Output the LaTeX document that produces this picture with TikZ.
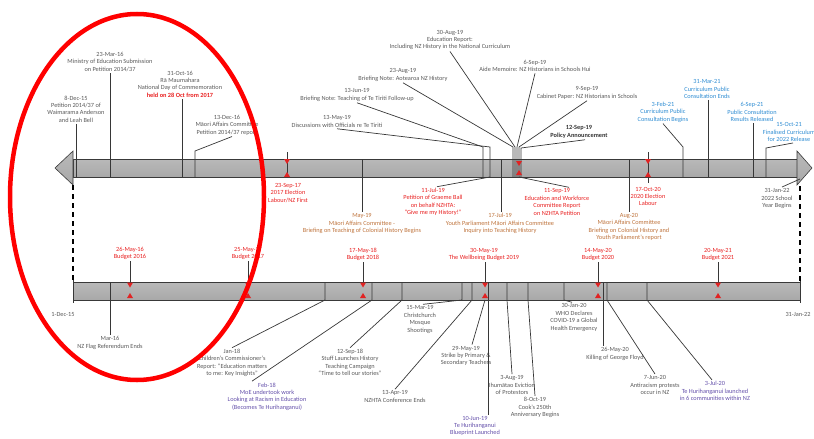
\documentclass[tikz,border=0pt]{standalone}
\usepackage{fontspec}
\setmainfont{Carlito}
\definecolor{txtgray}{RGB}{89,89,89}
\definecolor{txtred}{RGB}{232,32,32}
\definecolor{txtbrown}{RGB}{190,115,60}
\definecolor{txtblue}{RGB}{46,140,210}
\definecolor{txtpurple}{RGB}{100,80,170}
\definecolor{leadcol}{RGB}{55,55,55}
\definecolor{markred}{RGB}{225,35,35}
\definecolor{ringred}{RGB}{255,0,0}
\newcommand\tlfont{\fontsize{6.3}{7.4}\selectfont}
% pair of red triangles marking an event inside a band
\newcommand\tlmark[3]{%
  \fill[markred] (#1-3,#2) -- (#1+3,#2) -- (#1,#2+5) -- cycle;
  \fill[markred] (#1-3,#3) -- (#1+3,#3) -- (#1,#3-5) -- cycle;}
\begin{document}
\begin{tikzpicture}[x=1pt,y=-1pt,
  lbl/.style={align=center, inner sep=0pt, outer sep=1.5pt, font=\tlfont, text=txtgray},
  redlbl/.style={lbl, text=txtred},
  brownlbl/.style={lbl, text=txtbrown},
  bluelbl/.style={lbl, text=txtblue},
  purplbl/.style={lbl, text=txtpurple},
  lead/.style={draw=leadcol, line width=0.7pt},
  bandshade/.style={top color=gray!55, middle color=gray!18, bottom color=gray!68, draw=gray!45!black, line width=0.6pt},
  ring/.style={draw=ringred, line width=4.5pt},
  guide/.style={draw=black, line width=1.1pt, dash pattern=on 5pt off 4pt}
]
\useasboundingbox (0,0) rectangle (814,439);

% ---------- bands ----------
\path[bandshade] (73,159) rectangle (797,177);
\path[bandshade] (73,151) -- (55,168) -- (73,185) -- cycle;
\path[bandshade] (797,151) -- (812,168) -- (797,185) -- cycle;
\path[bandshade] (73,282) rectangle (800,300);
\draw[leadcol, line width=0.9pt] (73,278) -- (73,303);
\draw[leadcol, line width=0.9pt] (800,278) -- (800,303);
\draw[guide] (73,185) -- (73,282);
\draw[guide] (800,186) -- (800,282);

% ---------- upper timeline: events above ----------
\node[lbl] (t1) at (76,109) {8-Dec-15\\Petition 2014/37 of\\Waimarama Anderson\\and Leah Bell};
\node[lbl] (t2) at (110,62) {23-Mar-16\\Ministry of Education Submission\\on Petition 2014/37};
\node[lbl] (t3) at (180,84) {31-Oct-16\\Rā Maumahara\\National Day of Commemoration\\\textcolor{txtred}{\bfseries held on 28 Oct from 2017}};
\node[lbl] (t4) at (227,125) {13-Dec-16\\Māori Affairs Committee\\Petition 2014/37 report};
\node[lbl] (t5) at (337,121.5) {13-May-19\\Discussions with Officials re Te Tiriti};
\node[lbl] (t6) at (357,95) {13-Jun-19\\Briefing Note: Teaching of Te Tiriti Follow-up};
\node[lbl] (t7) at (403,75) {23-Aug-19\\Briefing Note: Aotearoa NZ History};
\node[lbl] (t8) at (450,40) {30-Aug-19\\Education Report:\\Including NZ History in the National Curriculum};
\node[lbl] (t9) at (535,66) {6-Sep-19\\Aide Memoire: NZ Historians in Schools Hui};
\node[lbl] (t10) at (587,93) {9-Sep-19\\Cabinet Paper: NZ Historians in Schools};
\node[lbl, font=\tlfont\bfseries, text=black!80] (t11) at (579,132) {12-Sep-19\\Policy Announcement};
\node[bluelbl] (t12) at (663,112) {3-Feb-21\\Curriculum Public\\Consultation Begins};
\node[bluelbl] (t13) at (707,89) {31-Mar-21\\Curriculum Public\\Consultation Ends};
\node[bluelbl] (t14) at (752,112) {6-Sep-21\\Public Consultation\\Results Released};
\node[bluelbl] (t15) at (789,132) {15-Oct-21\\Finalised Curriculum\\for 2022 Release};

\coordinate (a1) at (76,177);
\coordinate (a2) at (110,177);
\coordinate (a3) at (182,177);
\coordinate (a4) at (195,177);   \coordinate (e4) at (195,151);
\coordinate (a5) at (490,177);   \coordinate (e5) at (490,147);
\coordinate (a6) at (483,177);   \coordinate (e6) at (483,147);
\coordinate (a7) at (513,177);   \coordinate (e7) at (513,147);
\coordinate (a8) at (515,177);   \coordinate (e8) at (515,147);
\coordinate (a9) at (517,177);   \coordinate (e9) at (517,147);
\coordinate (a10) at (519,177);  \coordinate (e10) at (519,147);
\coordinate (a11) at (521,177);  \coordinate (e11) at (521,148);
\coordinate (a12) at (683,177);  \coordinate (e12) at (683,147);
\coordinate (a13) at (708,177);
\coordinate (a14) at (753,177);
\coordinate (a15) at (766,177);  \coordinate (e15) at (766,148);

\draw[lead] (t1.south) -- (a1);
\draw[lead] (t2.south -| a2) -- (a2);
\draw[lead] (t3.south -| a3) -- (a3);
\draw[lead] ([xshift=5pt]t4.south) -- (e4) -- (a4);
\draw[lead] (t5.south) -- (e5) -- (a5);
\draw[lead] (t6.south) -- (e6) -- (a6);
\draw[lead] (t7.south) -- (e7) -- (a7);
\draw[lead] (t8.south) -- (e8) -- (a8);
\draw[lead] (t9.south) -- (e9) -- (a9);
\draw[lead] (t10.south) -- (e10) -- (a10);
\draw[lead] ([xshift=6pt]t11.south) -- (e11) -- (a11);
\draw[lead] (t12.south) -- (e12) -- (a12);
\draw[lead] (t13.south -| a13) -- (a13);
\draw[lead] (t14.south -| a14) -- (a14);
\draw[lead] ([xshift=4pt]t15.south) -- (e15) -- (a15);

% ---------- upper timeline: events below ----------
\node[redlbl] (b1) at (288,193) {23-Sep-17\\2017 Election\\Labour/NZ First};
\coordinate (m1a) at (287,152); \coordinate (m1b) at (287,178);
\draw[lead] (m1a) -- (m1b);
\tlmark{287}{159}{177}

\node[brownlbl] (b2) at (362,223.5) {May-19\\Māori Affairs Committee -\\Briefing on Teaching of Colonial History Begins};
\coordinate (s2) at (362,159);
\draw[lead] (s2) -- (b2.north);

\node[redlbl] (b3) at (433,202) {11-Jul-19\\Petition of Graeme Ball\\on behalf NZHTA:\\“Give me my History!”};
\draw[lead] ([xshift=4pt]b3.north) -- (a5);

\node[brownlbl] (b4) at (500,223.5) {17-Jul-19\\Youth Parliament Māori Affairs Committee\\Inquiry into Teaching History};
\coordinate (s4) at (501,159);
\draw[lead] (s4) -- (s4 |- b4.north);

\node[redlbl] (b5) at (557,202) {11-Sep-19\\Education and Workforce\\Committee Report\\on NZHTA Petition};
\draw[lead] ([xshift=12pt]b5.north) -- (a10);
\tlmark{519}{161}{175}

\node[redlbl] (b6) at (648,196.5) {17-Oct-20\\2020 Election\\Labour};
\coordinate (m6a) at (648,152); \coordinate (m6b) at (648,183);
\draw[lead] (m6a) -- (m6b);
\tlmark{648}{159}{177}

\node[brownlbl] (b7) at (629,227) {Aug-20\\Māori Affairs Committee\\Briefing on Colonial History and\\Youth Parliament’s report};
\coordinate (s7) at (629,159);
\draw[lead] (s7) -- (b7.north);

\node[lbl] (b8) at (777,198.5) {31-Jan-22\\2022 School\\Year Begins};
\coordinate (a16) at (800,179);
\draw[lead] ([xshift=5pt]b8.north) -- (a16);

% ---------- lower timeline: budgets ----------
\node[redlbl] (r1) at (130,253.5) {26-May-16\\Budget 2016};
\node[redlbl] (r2) at (248,253.5) {25-May-17\\Budget 2017};
\node[redlbl] (r3) at (363,254.5) {17-May-18\\Budget 2018};
\node[redlbl] (r4) at (484,254.5) {30-May-19\\The Wellbeing Budget 2019};
\node[redlbl] (r5) at (598,254.5) {14-May-20\\Budget 2020};
\node[redlbl] (r6) at (718,254.5) {20-May-21\\Budget 2021};
\coordinate (p1) at (130,282);
\coordinate (p2) at (248,282);
\coordinate (p3) at (363,282);
\coordinate (p4) at (485,282);
\coordinate (p5) at (598,282);
\coordinate (p6) at (718,282);
\draw[lead] (r1.south -| p1) -- (p1);
\draw[lead] (r2.south -| p2) -- (p2);
\draw[lead] (r3.south -| p3) -- (p3);
\draw[lead] (r4.south -| p4) -- (p4);
\draw[lead] (r5.south -| p5) -- (p5);
\draw[lead] (r6.south -| p6) -- (p6);
\tlmark{130}{282.5}{298}
\tlmark{248}{282.5}{298}
\tlmark{363}{282.5}{298}
\tlmark{485}{282.5}{298}
\tlmark{598}{282.5}{298}
\tlmark{718}{282.5}{298}

% ---------- lower timeline: events below ----------
\node[lbl] (d0) at (63,314) {1-Dec-15};
\node[lbl] (d9) at (798,314) {31-Jan-22};

\node[lbl] (l1) at (110,343) {Mar-16\\NZ Flag Referendum Ends};
\node[lbl] (l2) at (232,363) {Jan-18\\Children’s Commissioner’s\\Report: “Education matters\\to me: Key Insights”};
\node[purplbl] (l3) at (267,396.5) {Feb-18\\MoE undertook work\\Looking at Racism in Education\\(Becomes Te Hurihanganui)};
\node[lbl] (l4) at (350,362.5) {12-Sep-18\\Stuff Launches History\\Teaching Campaign\\“Time to tell our stories”};
\node[lbl] (l5) at (420,319.5) {15-Mar-19\\Christchurch\\Mosque\\Shootings};
\node[lbl] (l6) at (395,396.5) {13-Apr-19\\NZHTA Conference Ends};
\node[lbl] (l7) at (466,356) {29-May-19\\Strike by Primary \&\\Secondary Teachers};
\node[purplbl] (l8) at (475,426) {10-Jun-19\\Te Hurihanganui\\Blueprint Launched};
\node[lbl] (l9) at (512,385) {3-Aug-19\\Ihumātao Eviction\\of Protestors};
\node[lbl] (l10) at (535,407.5) {8-Oct-19\\Cook’s 250th\\Anniversary Begins};
\node[lbl] (l11) at (574,317.5) {30-Jan-20\\WHO Declares\\COVID-19 a Global\\Health Emergency};
\node[lbl] (l12) at (615,354) {26-May-20\\Killing of George Floyd};
\node[lbl] (l13) at (655,385) {7-Jun-20\\Antiracism protests\\occur in NZ};
\node[purplbl] (l14) at (715,391) {3-Jul-20\\Te Hurihanganui launched\\in 6 communities within NZ};

\coordinate (q1) at (110,282);
\coordinate (q2) at (325,282);  \coordinate (k2) at (325,300);
\coordinate (q3) at (372,282);  \coordinate (k3) at (372,300);
\coordinate (q4) at (402,282);  \coordinate (k4) at (402,300);
\coordinate (q5) at (462,282);  \coordinate (k5) at (462,300);
\coordinate (q6) at (472,282);  \coordinate (k6) at (472,300);
\coordinate (k7) at (485,300);
\coordinate (q8) at (488,282);
\coordinate (q9) at (507,282);  \coordinate (k9) at (507,300);
\coordinate (q10) at (528,282); \coordinate (k10) at (528,300);
\coordinate (q11) at (564,282); \coordinate (k11) at (564,300);
\coordinate (q12) at (603,282);
\coordinate (q13) at (607,282); \coordinate (k13) at (607,300);
\coordinate (q14) at (647,282); \coordinate (k14) at (647,300);

\draw[lead] (q1) -- (l1.north);
\draw[lead] (q2) -- (k2) -- (l2.north);
\draw[lead] (q3) -- (k3) -- ([xshift=-15pt]l3.north);
\draw[lead] (q4) -- (k4) -- (l4.north);
\draw[lead] (q5) -- (k5) -- ([xshift=3pt]l5.north);
\draw[lead] (q6) -- (k6) -- (l6.north);
\draw[lead] (k7) -- ([xshift=6pt]l7.north);
\draw[lead] (q8) -- (l8.north -| q8);
\draw[lead] (q9) -- (k9) -- (l9.north);
\draw[lead] (q10) -- (k10) -- (l10.north);
\draw[lead] (q11) -- (k11) -- ([xshift=-2pt]l11.north);
\draw[lead] (q12) -- (l12.north -| q12);
\draw[lead] (q13) -- (k13) -- (l13.north);
\draw[lead] (q14) -- (k14) -- ([xshift=-3pt]l14.north);

% ---------- highlight ring ----------
\draw[ring] (137,197) ellipse [x radius=127pt, y radius=183pt];
\end{tikzpicture}
\end{document}
